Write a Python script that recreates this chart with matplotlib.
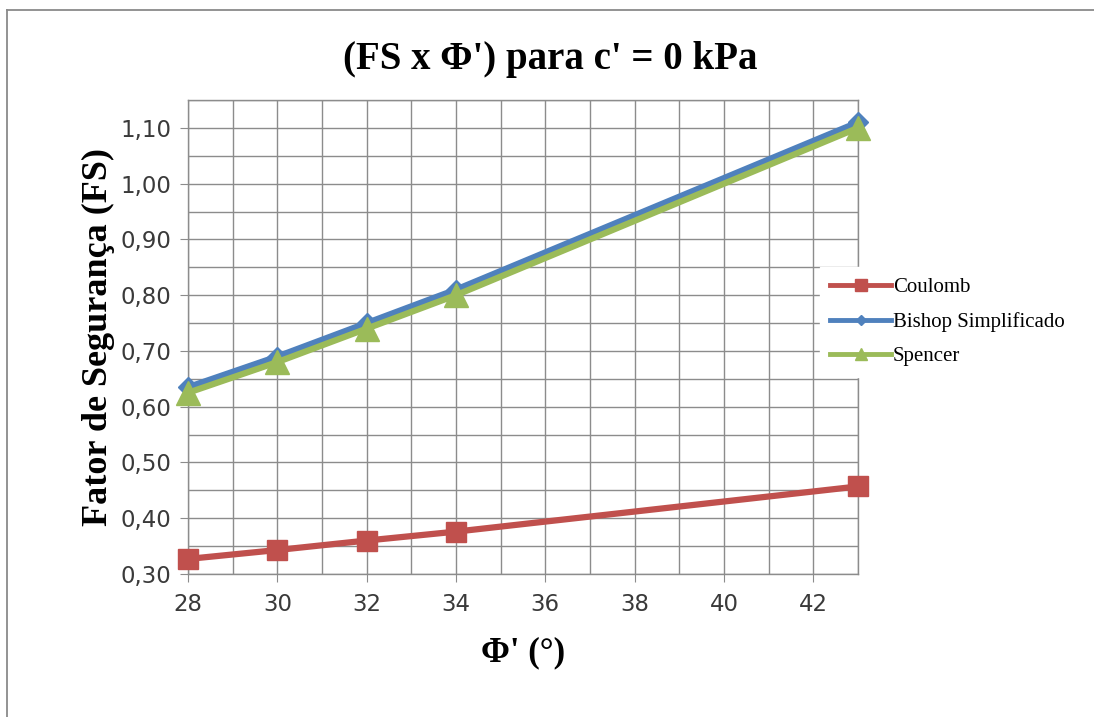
import matplotlib
matplotlib.use("Agg")
import matplotlib.pyplot as plt
from matplotlib.ticker import MultipleLocator, FuncFormatter
from matplotlib.lines import Line2D

# Friction angle (degrees)
phi = [28, 30, 32, 34, 43]

# Factor of safety per method
fs_coulomb = [0.327, 0.343, 0.360, 0.376, 0.457]
fs_bishop = [0.635, 0.690, 0.750, 0.810, 1.110]
fs_spencer = [0.625, 0.680, 0.740, 0.800, 1.100]

series_names = ["Coulomb", "Bishop Simplificado", "Spencer"]
x_ticks = [28, 30, 32, 34, 36, 38, 40, 42]

title = "(FS x \u03a6') para c' = 0 kPa"
xlabel = "\u03a6' (\u00b0)"
ylabel = "Fator de Segurança (FS)"

W, H = 1094, 717
fig = plt.figure(figsize=(W / 100, H / 100), dpi=100)
fig.patch.set_facecolor("white")

# outer chart frame (left and top edges)
fig.add_artist(Line2D([7 / W, 7 / W], [0, 1 - 10 / H], transform=fig.transFigure,
                      color="#8a8a8a", linewidth=1.3))
fig.add_artist(Line2D([7 / W, 1], [1 - 10 / H, 1 - 10 / H], transform=fig.transFigure,
                      color="#8a8a8a", linewidth=1.3))

ax = fig.add_axes([188 / W, (H - 574) / H, (858 - 188) / W, (574 - 100) / H])

ax.plot(phi, fs_coulomb, color="#C0504D", linewidth=4.5, marker="s",
        markersize=15, label=series_names[0], zorder=3, clip_on=False)
ax.plot(phi, fs_bishop, color="#4F81BD", linewidth=4.5, marker="D",
        markersize=10, label=series_names[1], zorder=3, clip_on=False)
ax.plot(phi, fs_spencer, color="#9BBB59", linewidth=4.5, marker="^",
        markersize=17, label=series_names[2], zorder=4, clip_on=False)

ax.set_xlim(28, 43)
ax.set_ylim(0.30, 1.15)
ax.xaxis.set_minor_locator(MultipleLocator(1))
ax.yaxis.set_major_locator(MultipleLocator(0.1))
ax.yaxis.set_minor_locator(MultipleLocator(0.05))
ax.yaxis.set_major_formatter(FuncFormatter(lambda v, p: f"{v:.2f}".replace(".", ",")))
ax.set_xticks(x_ticks)

ax.grid(True, which="both", color="#8c8c8c", linewidth=1.0, zorder=0)
ax.set_axisbelow(True)
for s in ax.spines.values():
    s.set_color("#8c8c8c")
    s.set_linewidth(1.0)

ax.tick_params(axis="both", which="major", direction="out", length=6,
               color="#8c8c8c", labelsize=16.5, labelcolor="#3a3a3a")
ax.tick_params(axis="y", which="major", pad=6)
ax.tick_params(axis="x", which="major", pad=8)
ax.tick_params(axis="both", which="minor", length=0)

fig.text(550 / W, 1 - 60 / H, title, ha="center", va="center",
         fontsize=28, fontweight="bold", family="Liberation Serif")
ax.set_xlabel(xlabel, fontsize=25, fontweight="bold", family="Liberation Serif",
              labelpad=14)
ax.set_ylabel(ylabel, fontsize=26, fontweight="bold", family="Liberation Serif",
              labelpad=4)

leg = ax.legend(loc="center left", bbox_to_anchor=(820 / W, 1 - 322 / H),
                bbox_transform=fig.transFigure, frameon=True, fancybox=False,
                facecolor="white", edgecolor="white", framealpha=1.0,
                prop={"family": "Liberation Serif", "size": 15},
                handlelength=2.9, handletextpad=0.1, labelspacing=0.7,
                markerscale=0.55, borderpad=0.5, borderaxespad=0)
for h in leg.legend_handles:
    h.set_linewidth(3.5)

fig.savefig("out.png", dpi=100, facecolor="white")
